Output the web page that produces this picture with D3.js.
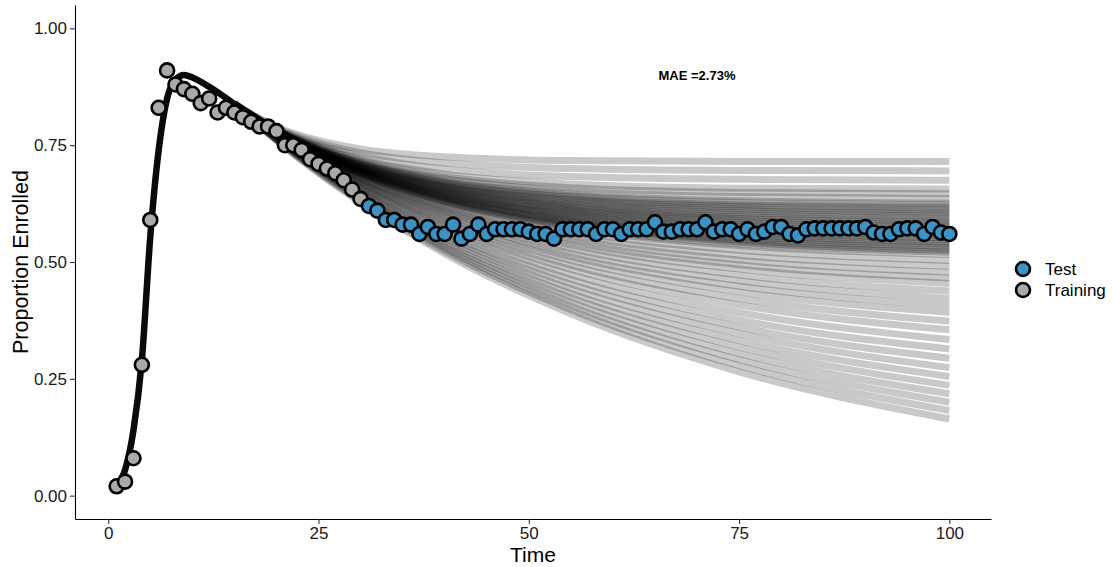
<!DOCTYPE html>
<html>
<head>
<meta charset="utf-8">
<script src="https://cdn.jsdelivr.net/npm/d3@7"></script>
<style>
  body { margin: 0; background: #fff; }
  text { font-family: "Liberation Sans", Arial, sans-serif; }
</style>
</head>
<body>
<svg id="chart" width="1113" height="567"></svg>
<script>

// observed proportions, time 1..30 (training) and 31..100 (test)
const trainingValues = [0.02, 0.03, 0.08, 0.28, 0.59, 0.83, 0.91, 0.88, 0.87, 0.86,
  0.84, 0.85, 0.82, 0.83, 0.82, 0.81, 0.80, 0.79, 0.79, 0.78,
  0.75, 0.75, 0.74, 0.72, 0.71, 0.70, 0.69, 0.675, 0.655, 0.635];
const testValues = [0.62, 0.61, 0.59, 0.59, 0.58, 0.58, 0.56, 0.575, 0.56, 0.56,
  0.58, 0.55, 0.56, 0.58, 0.56, 0.57, 0.57, 0.57, 0.57, 0.565,
  0.56, 0.56, 0.55, 0.57, 0.57, 0.57, 0.57, 0.56, 0.57, 0.57,
  0.56, 0.57, 0.57, 0.57, 0.585, 0.565, 0.565, 0.57, 0.57, 0.57,
  0.585, 0.565, 0.57, 0.57, 0.56, 0.57, 0.56, 0.565, 0.575, 0.575,
  0.56, 0.557, 0.57, 0.572, 0.572, 0.572, 0.572, 0.572, 0.572, 0.575,
  0.563, 0.56, 0.56, 0.57, 0.572, 0.572, 0.56, 0.575, 0.563, 0.56];
const trainingStart = 1;
const testStart = 31;

// common rising part of the simulated curves
const riseTimes = [1, 2, 3, 4, 5, 6, 7, 8, 9, 10, 12, 15];
const riseValues = [0.022, 0.055, 0.14, 0.29, 0.554, 0.74, 0.85, 0.89, 0.90, 0.895, 0.875, 0.838];

// simulated curves after t = 15 (fan of posterior draws)
const tailTimes = [15, 20, 25, 30, 40, 55, 75, 100];
const tailStart = 0.838;
const fanTails = [
  [0.789, 0.760, 0.742, 0.725, 0.717, 0.715, 0.715],
  [0.787, 0.755, 0.734, 0.712, 0.700, 0.696, 0.695],
  [0.785, 0.750, 0.727, 0.699, 0.683, 0.677, 0.675],
  [0.784, 0.747, 0.720, 0.688, 0.667, 0.658, 0.656],
  [0.783, 0.745, 0.717, 0.683, 0.659, 0.649, 0.646],
  [0.783, 0.743, 0.714, 0.678, 0.652, 0.640, 0.636],
  [0.782, 0.742, 0.712, 0.673, 0.645, 0.631, 0.626],
  [0.782, 0.741, 0.711, 0.671, 0.642, 0.627, 0.622],
  [0.781, 0.740, 0.709, 0.669, 0.638, 0.622, 0.617],
  [0.781, 0.740, 0.708, 0.667, 0.635, 0.618, 0.612],
  [0.781, 0.739, 0.707, 0.664, 0.631, 0.614, 0.607],
  [0.781, 0.738, 0.706, 0.662, 0.628, 0.610, 0.603],
  [0.780, 0.737, 0.704, 0.660, 0.624, 0.605, 0.598],
  [0.780, 0.737, 0.703, 0.658, 0.621, 0.601, 0.593],
  [0.780, 0.736, 0.702, 0.656, 0.618, 0.597, 0.588],
  [0.780, 0.736, 0.701, 0.654, 0.615, 0.593, 0.584],
  [0.779, 0.735, 0.700, 0.652, 0.612, 0.589, 0.579],
  [0.779, 0.735, 0.699, 0.650, 0.609, 0.585, 0.575],
  [0.779, 0.734, 0.698, 0.648, 0.606, 0.581, 0.570],
  [0.779, 0.734, 0.697, 0.646, 0.603, 0.577, 0.566],
  [0.778, 0.733, 0.696, 0.644, 0.600, 0.573, 0.561],
  [0.778, 0.733, 0.695, 0.643, 0.597, 0.569, 0.557],
  [0.778, 0.732, 0.694, 0.641, 0.594, 0.565, 0.552],
  [0.778, 0.731, 0.693, 0.639, 0.591, 0.562, 0.548],
  [0.778, 0.730, 0.692, 0.637, 0.588, 0.558, 0.543],
  [0.778, 0.730, 0.692, 0.636, 0.586, 0.554, 0.539],
  [0.777, 0.729, 0.691, 0.634, 0.583, 0.550, 0.534],
  [0.777, 0.729, 0.690, 0.632, 0.581, 0.547, 0.530],
  [0.777, 0.728, 0.689, 0.630, 0.578, 0.543, 0.525],
  [0.777, 0.728, 0.688, 0.629, 0.575, 0.539, 0.521],
  [0.776, 0.727, 0.687, 0.627, 0.572, 0.535, 0.516],
  [0.776, 0.726, 0.685, 0.623, 0.565, 0.525, 0.503],
  [0.775, 0.725, 0.682, 0.618, 0.557, 0.514, 0.491],
  [0.775, 0.723, 0.680, 0.614, 0.550, 0.504, 0.478],
  [0.774, 0.722, 0.678, 0.610, 0.543, 0.494, 0.466],
  [0.773, 0.721, 0.676, 0.606, 0.536, 0.485, 0.454],
  [0.773, 0.719, 0.673, 0.601, 0.528, 0.472, 0.438],
  [0.772, 0.717, 0.670, 0.596, 0.519, 0.460, 0.422],
  [0.771, 0.716, 0.668, 0.591, 0.511, 0.448, 0.407],
  [0.771, 0.714, 0.665, 0.586, 0.503, 0.436, 0.392],
  [0.770, 0.712, 0.662, 0.580, 0.493, 0.422, 0.373],
  [0.769, 0.710, 0.659, 0.575, 0.484, 0.408, 0.355],
  [0.768, 0.708, 0.656, 0.569, 0.473, 0.392, 0.334],
  [0.767, 0.706, 0.652, 0.562, 0.463, 0.376, 0.314],
  [0.766, 0.704, 0.649, 0.556, 0.453, 0.361, 0.294],
  [0.765, 0.702, 0.646, 0.551, 0.443, 0.347, 0.274],
  [0.764, 0.700, 0.642, 0.545, 0.433, 0.332, 0.255],
  [0.763, 0.698, 0.639, 0.539, 0.424, 0.318, 0.236],
  [0.762, 0.696, 0.636, 0.534, 0.415, 0.304, 0.218],
  [0.762, 0.694, 0.633, 0.529, 0.406, 0.291, 0.200],
  [0.761, 0.692, 0.630, 0.523, 0.398, 0.278, 0.182],
  [0.760, 0.690, 0.627, 0.518, 0.389, 0.265, 0.164]
];

const xTicks = [0, 25, 50, 75, 100];
const yTicks = [0, 0.25, 0.5, 0.75, 1];
const legendLabels = ["Test", "Training"];
const maeLabel = "MAE =2.73%";
const maePos = [70, 0.9];

const colors = { Test: "#3a93c3", Training: "#a9a9a9" };

function drawChart() {
  const svg = d3.select("#chart");
  const left = 75, right = 991, top = 5, bottom = 519;

  const x = d3.scaleLinear().domain([-3.95, 104.95]).range([left, right]);
  const y = d3.scaleLinear().domain([-0.05, 1.05]).range([bottom, top]);

  const line = d3.line()
      .x(function(d) { return x(d[0]); })
      .y(function(d) { return y(d[1]); })
      .curve(d3.curveMonotoneX);

  // fan of simulated curves, wide and faint so they blend into a density
  svg.append("g")
    .selectAll("path")
    .data(fanTails)
    .enter().append("path")
      .attr("d", function(tail) {
        const pts = [[tailTimes[0], tailStart]];
        tail.forEach(function(v, i) { pts.push([tailTimes[i + 1], v]); });
        return line(pts);
      })
      .attr("fill", "none")
      .attr("stroke", "#000")
      .attr("stroke-opacity", 0.21)
      .attr("stroke-width", 7)
      .attr("stroke-linecap", "butt");

  // shared rising section (all draws overlap here)
  svg.append("path")
    .datum(riseTimes.map(function(t, i) { return [t, riseValues[i]]; }))
    .attr("d", line)
    .attr("fill", "none")
    .attr("stroke", "#0a0a0a")
    .attr("stroke-width", 6.5)
    .attr("stroke-linecap", "round")
    .attr("stroke-linejoin", "round");

  // axes
  const yAxis = svg.append("g")
      .attr("transform", "translate(" + left + ",0)")
      .call(d3.axisLeft(y).tickValues(yTicks).tickFormat(d3.format(".2f"))
        .tickSize(5).tickSizeOuter(0).tickPadding(3));
  const xAxis = svg.append("g")
      .attr("transform", "translate(0," + bottom + ")")
      .call(d3.axisBottom(x).tickValues(xTicks).tickFormat(d3.format("d"))
        .tickSize(5).tickSizeOuter(0).tickPadding(3));
  [xAxis, yAxis].forEach(function(a) {
    a.select(".domain").attr("stroke", "#000").attr("stroke-width", 1.1);
    a.selectAll(".tick line").attr("stroke", "#333").attr("stroke-width", 1.1);
    a.selectAll(".tick text").attr("font-size", 17).attr("fill", "#1a1a1a")
      .style("font-family", "'Liberation Sans', Arial, sans-serif");
  });

  // observed points
  const points = [];
  trainingValues.forEach(function(v, i) { points.push({ t: trainingStart + i, v: v, g: "Training" }); });
  testValues.forEach(function(v, i) { points.push({ t: testStart + i, v: v, g: "Test" }); });

  svg.append("g")
    .selectAll("circle")
    .data(points)
    .enter().append("circle")
      .attr("cx", function(d) { return x(d.t); })
      .attr("cy", function(d) { return y(d.v); })
      .attr("r", 7)
      .attr("fill", function(d) { return colors[d.g]; })
      .attr("stroke", "#000")
      .attr("stroke-width", 2.6);

  // MAE annotation
  svg.append("text")
    .attr("x", x(maePos[0]))
    .attr("y", y(maePos[1]))
    .attr("dy", "0.35em")
    .attr("text-anchor", "middle")
    .attr("font-size", 13)
    .attr("font-weight", "bold")
    .text(maeLabel);

  // axis titles
  svg.append("text")
    .attr("x", (left + right) / 2)
    .attr("y", 562)
    .attr("text-anchor", "middle")
    .attr("font-size", 21)
    .attr("fill", "#000")
    .text("Time");

  svg.append("text")
    .attr("transform", "translate(28," + ((top + bottom) / 2) + ") rotate(-90)")
    .attr("text-anchor", "middle")
    .attr("font-size", 21.5)
    .attr("fill", "#000")
    .text("Proportion Enrolled");

  // legend
  const legend = svg.append("g").attr("transform", "translate(1023,269)");
  legendLabels.forEach(function(name, i) {
    legend.append("circle")
      .attr("cx", 0).attr("cy", i * 21)
      .attr("r", 7)
      .attr("fill", colors[name])
      .attr("stroke", "#000")
      .attr("stroke-width", 2.6);
    legend.append("text")
      .attr("x", 22).attr("y", i * 21)
      .attr("dy", "0.36em")
      .attr("font-size", 17)
      .attr("fill", "#000")
      .text(name);
  });
}

drawChart();
</script>
</body>
</html>
